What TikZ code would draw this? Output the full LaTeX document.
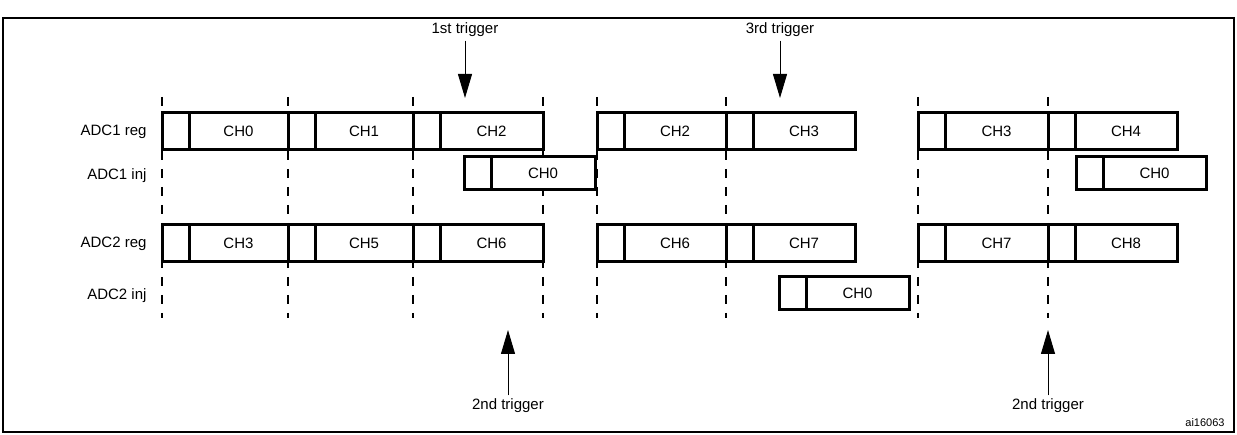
\documentclass[tikz,border=0pt]{standalone}
\usepackage{fontspec}
\setmainfont{Liberation Sans}
\usetikzlibrary{arrows.meta}
\newcommand{\slot}[6]{% name, x0, x1, y0, y1, label
  \draw[cellbox] (#2,#4) rectangle (#3,#5);
  \draw[cellbox] (#2+27,#4) -- (#2+27,#5);
  \node[cell] (#1) at ({(#2+27+#3)/2},{(#4+#5)/2}) {#6};}
\begin{document}
\begin{tikzpicture}[x=1pt,y=-1pt,
            > = {Triangle[length=24pt,width=14pt]},
 cellbox/.style = {line width=3pt,fill=white},
    cell/.style = {font=\fontsize{15}{18}\selectfont},
  rowlab/.style = {font=\fontsize{15}{18}\selectfont,anchor=east},
   guide/.style = {dash pattern=on 9pt off 9pt,line width=1.2pt},
    trig/.style = {->,line width=1pt}
                        ]
\useasboundingbox (0,0) rectangle (1237,435);
\draw[line width=1.5pt] (3,18) rectangle (1234,432);
% guides
\foreach \gx in {162,288,413,543,597,726,918,1048}
    \draw[guide] (\gx,97) -- (\gx,318);
% row labels
\node[rowlab] (r1) at (150,132) {ADC1 reg};
\node[rowlab] (r2) at (150,176) {ADC1 inj};
\node[rowlab] (r3) at (150,244) {ADC2 reg};
\node[rowlab] (r4) at (150,296) {ADC2 inj};
% ADC1 regular
\slot{a0}{162}{288}{113}{150}{CH0}
\slot{a1}{288}{413}{113}{150}{CH1}
\slot{a2}{413}{543}{113}{150}{CH2}
\slot{a3}{597}{726}{113}{150}{CH2}
\slot{a4}{726}{855}{113}{150}{CH3}
\slot{a5}{918}{1048}{113}{150}{CH3}
\slot{a6}{1048}{1177}{113}{150}{CH4}
% ADC1 injected
\slot{ai0}{464}{595}{157}{190}{CH0}
\slot{ai1}{1076}{1206}{157}{190}{CH0}
% ADC2 regular
\slot{b0}{162}{288}{225}{262}{CH3}
\slot{b1}{288}{413}{225}{262}{CH5}
\slot{b2}{413}{543}{225}{262}{CH6}
\slot{b3}{597}{726}{225}{262}{CH6}
\slot{b4}{726}{855}{225}{262}{CH7}
\slot{b5}{918}{1048}{225}{262}{CH7}
\slot{b6}{1048}{1177}{225}{262}{CH8}
% ADC2 injected
\slot{bi0}{779}{909}{277}{310}{CH0}
% triggers
\node[cell] (t1) at (465,30) {1st trigger};
\node[cell] (t3) at (780,30) {3rd trigger};
\node[cell] (t2a) at (508,406) {2nd trigger};
\node[cell] (t2b) at (1048,406) {2nd trigger};
\coordinate (e1) at (465,98);
\coordinate (e3) at (780,98);
\coordinate (e2a) at (508,330);
\coordinate (e2b) at (1048,330);
\draw[trig] (t1) -- (e1);
\draw[trig] (t3) -- (e3);
\draw[trig] (t2a) -- (e2a);
\draw[trig] (t2b) -- (e2b);
\node[font=\fontsize{11}{13}\selectfont] (id) at (1205,423) {ai16063};
\end{tikzpicture}
\end{document}
